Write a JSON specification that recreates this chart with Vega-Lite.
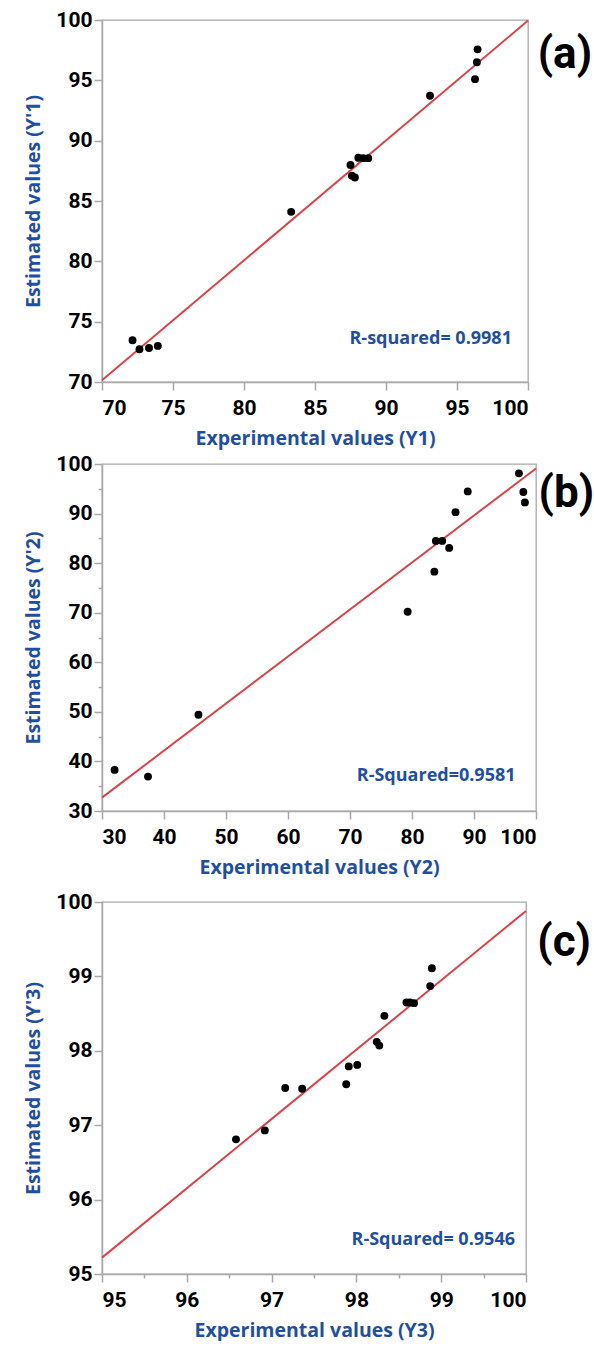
{
  "$schema": "https://vega.github.io/schema/vega-lite/v6.json",
  "padding": {"top": 8, "left": 23, "right": 0, "bottom": 0},
  "config": {
    "view": {"stroke": "#a8a8a8", "strokeWidth": 1.3},
    "axis": {"grid": false, "domainColor": "#a8a8a8", "domainWidth": 1.5, "tickColor": "#a8a8a8", "tickWidth": 1.5, "tickSize": 8,
      "labelFont": "Roboto", "labelFontWeight": "bold", "labelFontSize": 21, "labelColor": "#000000", "labelPadding": 2, "format": "d",
      "titleFont": "Open Sans", "titleFontWeight": "bold", "titleFontSize": 19.5, "titleColor": "#1f4fa3"},
    "axisX": {"labelPadding": 7, "titlePadding": 11},
    "axisY": {"titlePadding": 12}
  },
  "datasets": {
    "lineA": [{"x": 70, "y": 70.15}, {"x": 100, "y": 99.95}],
    "ptsA": [
      {"x": 72.15, "y": 73.46}, {"x": 72.64, "y": 72.71}, {"x": 73.31, "y": 72.82}, {"x": 73.93, "y": 72.99},
      {"x": 83.32, "y": 84.1}, {"x": 87.5, "y": 87.98}, {"x": 87.6, "y": 87.1}, {"x": 87.81, "y": 86.95},
      {"x": 88.05, "y": 88.58}, {"x": 88.4, "y": 88.55}, {"x": 88.75, "y": 88.55},
      {"x": 93.1, "y": 93.72}, {"x": 96.27, "y": 95.1}, {"x": 96.4, "y": 96.5}, {"x": 96.45, "y": 97.57}
    ],
    "lineB": [{"x": 30, "y": 32.7}, {"x": 100, "y": 99.1}],
    "ptsB": [
      {"x": 32.03, "y": 38.29}, {"x": 37.42, "y": 36.94}, {"x": 45.56, "y": 49.42}, {"x": 79.3, "y": 70.19},
      {"x": 83.61, "y": 78.28}, {"x": 83.85, "y": 84.49}, {"x": 84.87, "y": 84.49}, {"x": 86.0, "y": 83.07},
      {"x": 87.02, "y": 90.29}, {"x": 88.99, "y": 94.47}, {"x": 97.25, "y": 98.11}, {"x": 97.96, "y": 94.34},
      {"x": 98.21, "y": 92.25}
    ],
    "lineC": [{"x": 95, "y": 95.22}, {"x": 100, "y": 99.88}],
    "ptsC": [
      {"x": 96.58, "y": 96.81}, {"x": 96.92, "y": 96.93}, {"x": 97.16, "y": 97.5}, {"x": 97.36, "y": 97.49},
      {"x": 97.88, "y": 97.55}, {"x": 97.91, "y": 97.79}, {"x": 98.01, "y": 97.81}, {"x": 98.24, "y": 98.12},
      {"x": 98.27, "y": 98.07}, {"x": 98.33, "y": 98.47}, {"x": 98.59, "y": 98.65}, {"x": 98.63, "y": 98.65},
      {"x": 98.68, "y": 98.64}, {"x": 98.87, "y": 98.87}, {"x": 98.89, "y": 99.11}
    ]
  },
  "spacing": 12,
  "vconcat": [
    {
      "spacing": 3,
      "vconcat": [
        {
          "width": 426, "height": 362,
          "layer": [
            {"data": {"name": "lineA"}, "mark": {"type": "line", "color": "#d9444c", "strokeWidth": 2},
             "encoding": {
               "x": {"field": "x", "type": "quantitative", "scale": {"domain": [70, 100], "nice": false, "zero": false},
                     "axis": {"values": [70, 75, 80, 85, 90, 95, 100], "title": "Experimental values (Y1)"}},
               "y": {"field": "y", "type": "quantitative", "scale": {"domain": [70, 100], "nice": false, "zero": false},
                     "axis": {"values": [70, 75, 80, 85, 90, 95, 100], "title": "Estimated values (Y'1)"}}}},
            {"data": {"name": "ptsA"}, "mark": {"type": "circle", "color": "#000000", "size": 62, "opacity": 1},
             "encoding": {"x": {"field": "x", "type": "quantitative"}, "y": {"field": "y", "type": "quantitative"}}},
            {"data": {"values": [{"x": 98.87, "y": 73.56, "label": "R-squared= 0.9981"}]},
             "mark": {"type": "text", "align": "right", "baseline": "middle", "font": "Open Sans", "fontWeight": "bold", "fontSize": 18, "color": "#1f4fa3"},
             "encoding": {"x": {"field": "x", "type": "quantitative"}, "y": {"field": "y", "type": "quantitative"}, "text": {"field": "label"}}},
            {"data": {"values": [{"x": 102.6, "y": 97.1, "label": "(a)"}]},
             "mark": {"type": "text", "align": "center", "baseline": "middle", "font": "Roboto", "fontWeight": "bold", "fontSize": 44, "color": "#000000", "clip": false},
             "encoding": {"x": {"field": "x", "type": "quantitative"}, "y": {"field": "y", "type": "quantitative"}, "text": {"field": "label"}}}
          ]
        },
        {
          "width": 434, "height": 347,
          "resolve": {"axis": {"y": "independent"}},
          "layer": [
            {"data": {"name": "lineB"}, "mark": {"type": "line", "color": "#d9444c", "strokeWidth": 2},
             "encoding": {
               "x": {"field": "x", "type": "quantitative", "scale": {"domain": [30, 100], "nice": false, "zero": false},
                     "axis": {"values": [30, 40, 50, 60, 70, 80, 90, 100], "title": "Experimental values (Y2)"}},
               "y": {"field": "y", "type": "quantitative", "scale": {"domain": [30, 100], "nice": false, "zero": false},
                     "axis": {"orient": "left", "values": [30, 40, 50, 60, 70, 80, 90, 100], "title": "Estimated values (Y'2)"}}}},
            {"data": {"name": "ptsB"}, "mark": {"type": "circle", "color": "#000000", "size": 62, "opacity": 1},
             "encoding": {"x": {"field": "x", "type": "quantitative"},
               "y": {"field": "y", "type": "quantitative",
                     "axis": {"orient": "left", "values": [35, 45, 55, 65, 75, 85, 95], "labels": false, "domain": false, "tickSize": 4, "title": null}}}},
            {"data": {"values": [{"x": 96.7, "y": 37.06, "label": "R-Squared=0.9581"}]},
             "mark": {"type": "text", "align": "right", "baseline": "middle", "font": "Open Sans", "fontWeight": "bold", "fontSize": 18, "color": "#1f4fa3"},
             "encoding": {"x": {"field": "x", "type": "quantitative"}, "y": {"field": "y", "type": "quantitative", "axis": null}, "text": {"field": "label"}}},
            {"data": {"values": [{"x": 104.9, "y": 93.95, "label": "(b)"}]},
             "mark": {"type": "text", "align": "center", "baseline": "middle", "font": "Roboto", "fontWeight": "bold", "fontSize": 44, "color": "#000000", "clip": false},
             "encoding": {"x": {"field": "x", "type": "quantitative"}, "y": {"field": "y", "type": "quantitative", "axis": null}, "text": {"field": "label"}}}
          ]
        }
      ]
    },
    {
      "width": 424, "height": 372,
      "resolve": {"axis": {"x": "independent"}},
      "layer": [
        {"data": {"name": "lineC"}, "mark": {"type": "line", "color": "#d9444c", "strokeWidth": 2},
         "encoding": {
           "x": {"field": "x", "type": "quantitative", "scale": {"domain": [95, 100], "nice": false, "zero": false},
                 "axis": {"orient": "bottom", "values": [95, 96, 97, 98, 99, 100], "title": "Experimental values (Y3)"}},
           "y": {"field": "y", "type": "quantitative", "scale": {"domain": [95, 100], "nice": false, "zero": false},
                 "axis": {"values": [95, 96, 97, 98, 99, 100], "title": "Estimated values (Y'3)"}}}},
        {"data": {"name": "ptsC"}, "mark": {"type": "circle", "color": "#000000", "size": 62, "opacity": 1},
         "encoding": {
           "x": {"field": "x", "type": "quantitative",
                 "axis": {"orient": "bottom", "values": [95.5, 96.5, 97.5, 98.5, 99.5], "labels": false, "domain": false, "tickSize": 4, "title": null}},
           "y": {"field": "y", "type": "quantitative"}}},
        {"data": {"values": [{"x": 99.87, "y": 95.46, "label": "R-Squared= 0.9546"}]},
         "mark": {"type": "text", "align": "right", "baseline": "middle", "font": "Open Sans", "fontWeight": "bold", "fontSize": 18, "color": "#1f4fa3"},
         "encoding": {"x": {"field": "x", "type": "quantitative", "axis": null}, "y": {"field": "y", "type": "quantitative"}, "text": {"field": "label"}}},
        {"data": {"values": [{"x": 100.45, "y": 99.45, "label": "(c)"}]},
         "mark": {"type": "text", "align": "center", "baseline": "middle", "font": "Roboto", "fontWeight": "bold", "fontSize": 44, "color": "#000000", "clip": false},
         "encoding": {"x": {"field": "x", "type": "quantitative", "axis": null}, "y": {"field": "y", "type": "quantitative"}, "text": {"field": "label"}}}
      ]
    }
  ]
}
